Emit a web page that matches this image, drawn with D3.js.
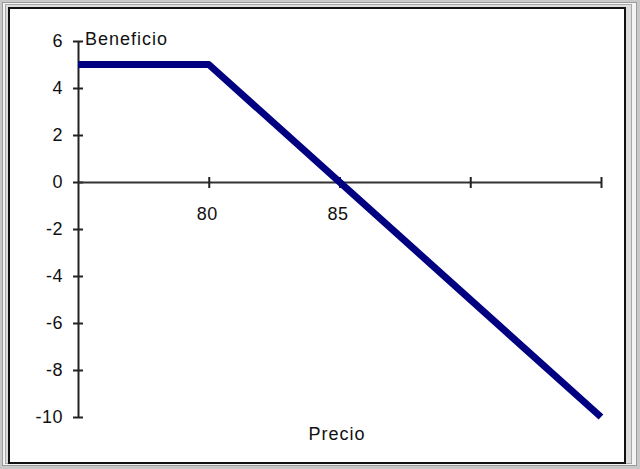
<!DOCTYPE html>
<html><head><meta charset="utf-8">
<script src="https://cdn.jsdelivr.net/npm/d3@7"></script>
<style>body{margin:0;background:#fff}svg{display:block}text{font-family:Arial,"Liberation Sans",sans-serif;fill:#111}</style>
</head><body><svg id="c" width="640" height="469"></svg>
<script>
const precio = [75, 80, 95];
const beneficio = [5, 5, -10];
const xTicks = [80, 85, 90, 95];
const xTickLabels = ["80", "85", "", ""];
const yTicks = [6, 4, 2, 0, -2, -4, -6, -8, -10];
const xTitle = "Precio";
const yTitle = "Beneficio";

const FONT = "Arial, 'Liberation Sans', sans-serif";
const svg = d3.select("#c");
// frame
svg.append("rect").attr("x",0).attr("y",0).attr("width",640).attr("height",469).attr("fill","#c8c8c8");
svg.append("rect").attr("x",2.5).attr("y",2.5).attr("width",634).attr("height",463).attr("fill","#f4f4f4").attr("stroke","#9a9a9a");
svg.append("rect").attr("x",5.5).attr("y",4.5).attr("width",626).attr("height",459).attr("fill","#dcdcdc").attr("stroke","#a8a8a8");
svg.append("rect").attr("x",9).attr("y",8).attr("width",616).attr("height",455).attr("fill","#fff").attr("stroke","#111").attr("stroke-width",2);

const x = d3.scaleLinear().domain([75,95]).range([78,601]);
const y = d3.scaleLinear().domain([-10,6]).range([417,41]);

// y axis
const ya = svg.append("g").attr("transform",`translate(${x(75)},0)`)
  .call(d3.axisLeft(y).tickValues(yTicks).tickSize(0).tickPadding(15).tickFormat(d => String(d)));
ya.select(".domain").attr("stroke","#222").attr("stroke-width",2);
ya.selectAll(".tick text").attr("font-size",18).attr("font-family",FONT).attr("fill","#111").attr("letter-spacing",0.5);
ya.selectAll(".tick").append("line").attr("x1",-5).attr("x2",5).attr("stroke","#222").attr("stroke-width",2);

// x axis
const xa = svg.append("g").attr("transform",`translate(0,${y(0)})`)
  .call(d3.axisBottom(x).tickValues(xTicks).tickSize(0).tickPadding(25).tickFormat((d,i)=>xTickLabels[i]));
xa.select(".domain").attr("stroke","#333").attr("stroke-width",2);
xa.selectAll(".tick text").attr("font-size",18).attr("font-family",FONT).attr("fill","#111").attr("dx",-2).attr("letter-spacing",0.5);
xa.selectAll(".tick").append("line").attr("y1",-5).attr("y2",6).attr("stroke","#222").attr("stroke-width",2);

// titles
svg.append("text").attr("x",85).attr("y",45).attr("font-size",18).attr("letter-spacing",1).text(yTitle);
svg.append("text").attr("x",337).attr("y",440).attr("font-size",18).attr("letter-spacing",1).attr("text-anchor","middle").text(xTitle);

// line
const pts = precio.map((p,i)=>[p,beneficio[i]]);
svg.append("path").datum(pts)
  .attr("d", d3.line().x(d=>x(d[0])).y(d=>y(d[1])))
  .attr("fill","none").attr("stroke","#000080").attr("stroke-width",7).attr("stroke-linejoin","round");
</script></body></html>
